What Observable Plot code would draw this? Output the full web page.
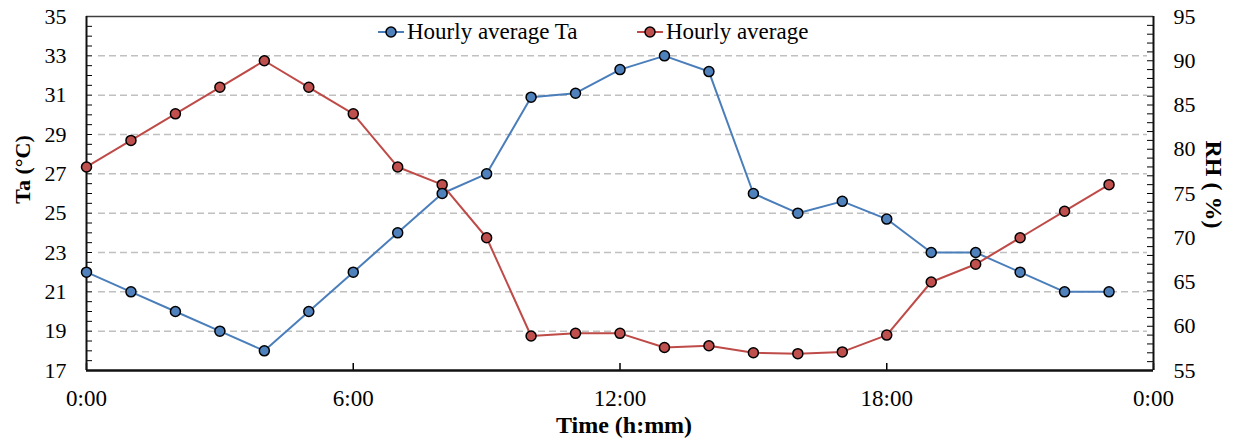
<!DOCTYPE html>
<html>
<head>
<meta charset="utf-8">
<script src="https://cdn.jsdelivr.net/npm/d3@7"></script>
<script src="https://cdn.jsdelivr.net/npm/@observablehq/plot@0.6"></script>
<style>
  body { margin: 0; background: #fff; }
  #chart { position: relative; width: 1233px; height: 443px; font-family: "Times New Roman", "Liberation Serif", serif; }
  .legend-item { position: absolute; top: 19px; display: flex; align-items: center; font-size: 23px; line-height: 26px; color: #000; white-space: nowrap; }
  .legend-item svg { margin-right: 3px; }
</style>
</head>
<body>
<div id="chart"></div>
<script>
// Hour of day (0:00 … 23:00)
const hours = [0, 1, 2, 3, 4, 5, 6, 7, 8, 9, 10, 11, 12, 13, 14, 15, 16, 17, 18, 19, 20, 21, 22, 23];
// Hourly average air temperature (°C)
const taValues = [22, 21, 20, 19, 18, 20, 22, 24, 26, 27, 30.9, 31.1, 32.3, 33, 32.2, 26, 25, 25.6, 24.7, 23, 23, 22, 21, 21];
// Hourly average relative humidity (%)
const rhValues = [78, 81, 84, 87, 90, 87, 84, 78, 76, 70, 58.9, 59.2, 59.2, 57.6, 57.8, 57, 56.9, 57.1, 59, 65, 67, 70, 73, 76];

// Axes
const taDomain = [17, 35];
const rhDomain = [55, 95];
const taTicks = [17, 19, 21, 23, 25, 27, 29, 31, 33, 35];
const gridTicks = [19, 21, 23, 25, 27, 29, 31, 33];
const rhTicks = [55, 60, 65, 70, 75, 80, 85, 90, 95];
const xTicks = [0, 6, 12, 18, 24];
const xTickLabels = ["0:00", "6:00", "12:00", "18:00", "0:00"];

const seriesNames = ["Hourly average Ta", "Hourly average"];
const xTitle = "Time (h:mm)";
const yTitleLeft = "Ta (°C)";
const yTitleRight = "RH ( %)";

const blueLine = "#4a7ebb", blueFill = "#4f81bd";
const redLine = "#be4b48", redFill = "#c0504d";

const W = 1233, H = 443, mL = 86, mR = 80, mT = 16, mB = 73;
const innerW = W - mL - mR, innerH = H - mT - mB;

// RH is drawn on the temperature scale through a linear mapping of the two domains
const k = (taDomain[1] - taDomain[0]) / (rhDomain[1] - rhDomain[0]);
const rhToTa = v => taDomain[0] + (v - rhDomain[0]) * k;
const taToRh = v => rhDomain[0] + (v - taDomain[0]) / k;

const rows = hours.map((h, i) => ({h, ta: taValues[i], rh: rhToTa(rhValues[i])}));

// minor tick positions: every 0.5 °C on the left, every 1 % on the right
const taMinor = d3.range(taDomain[0], taDomain[1] + 1e-9, 0.5);
const rhMinor = d3.range(rhDomain[0], rhDomain[1] + 1e-9, 1).map(rhToTa);

const font = "\"Times New Roman\", \"Liberation Serif\", serif";

const plot = Plot.plot({
  width: W,
  height: H,
  marginLeft: mL,
  marginRight: mR,
  marginTop: mT,
  marginBottom: mB,
  style: {fontFamily: font, fontSize: "22px", color: "#000", background: "#fff", overflow: "visible"},
  x: {domain: [0, 24]},
  y: {domain: taDomain},
  marks: [
    Plot.ruleY(gridTicks, {stroke: "#c0c0c0", strokeWidth: 1.5, strokeDasharray: "7,4", insetLeft: 12, insetRight: 6}),
    // inward tick marks
    Plot.tickY(taMinor, {y: d => d, stroke: "#000", strokeWidth: 1, insetRight: innerW - 6}),
    Plot.tickY(rhMinor, {y: d => d, stroke: "#000", strokeWidth: 1, insetLeft: innerW - 6}),
    Plot.tickX(xTicks, {x: d => d, stroke: "#000", strokeWidth: 1.5, insetTop: innerH - 7}),
    // tick labels
    Plot.axisY(taTicks, {anchor: "left", tickSize: 0, tickPadding: 20, label: null, fontSize: 22}),
    Plot.axisY(rhTicks.map(rhToTa), {anchor: "right", tickSize: 0, tickPadding: 20, label: null, fontSize: 22,
      tickFormat: v => String(Math.round(taToRh(v)))}),
    Plot.axisX(xTicks, {anchor: "bottom", tickSize: 0, tickPadding: 19, label: null, fontSize: 23,
      tickFormat: d => xTickLabels[xTicks.indexOf(d)]}),
    // plot frame
    Plot.ruleY([taDomain[1]], {stroke: "#404040", strokeWidth: 1.5}),
    Plot.ruleX([0], {stroke: "#111", strokeWidth: 2}),
    Plot.ruleX([24], {stroke: "#111", strokeWidth: 2}),
    Plot.ruleY([taDomain[0]], {stroke: "#111", strokeWidth: 2.5}),
    // series
    Plot.line(rows, {x: "h", y: "ta", stroke: blueLine, strokeWidth: 2}),
    Plot.line(rows, {x: "h", y: "rh", stroke: redLine, strokeWidth: 2}),
    Plot.dot(rows, {x: "h", y: "rh", r: 5, fill: redFill, stroke: "#000", strokeWidth: 1.5}),
    Plot.dot(rows, {x: "h", y: "ta", r: 5, fill: blueFill, stroke: "#000", strokeWidth: 1.5}),
    // axis titles
    Plot.text([yTitleLeft], {text: d => d, frameAnchor: "left", textAnchor: "middle", rotate: -90, dx: -64, dy: -24, fontWeight: "bold", fontSize: 22}),
    Plot.text([yTitleRight], {text: d => d, frameAnchor: "right", textAnchor: "middle", rotate: 90, dx: 60, dy: -9, fontWeight: "bold", fontSize: 24}),
    Plot.text([xTitle], {text: d => d, frameAnchor: "bottom", textAnchor: "middle", dy: 62, dx: 4, fontWeight: "bold", fontSize: 24})
  ]
});

const chart = document.getElementById("chart");
chart.appendChild(plot);

// legend inside the plot area
function legendItem(name, line, fill, left) {
  const item = document.createElement("div");
  item.className = "legend-item";
  item.style.left = left + "px";
  item.innerHTML =
    `<svg width="26" height="14" viewBox="0 0 26 14">` +
    `<line x1="0" y1="7" x2="26" y2="7" stroke="${line}" stroke-width="2"/>` +
    `<circle cx="13" cy="7" r="5" fill="${fill}" stroke="#000" stroke-width="1.5"/></svg>` +
    `<span>${name}</span>`;
  chart.appendChild(item);
}
legendItem(seriesNames[0], blueLine, blueFill, 378);
legendItem(seriesNames[1], redLine, redFill, 637);
</script>
</body>
</html>
